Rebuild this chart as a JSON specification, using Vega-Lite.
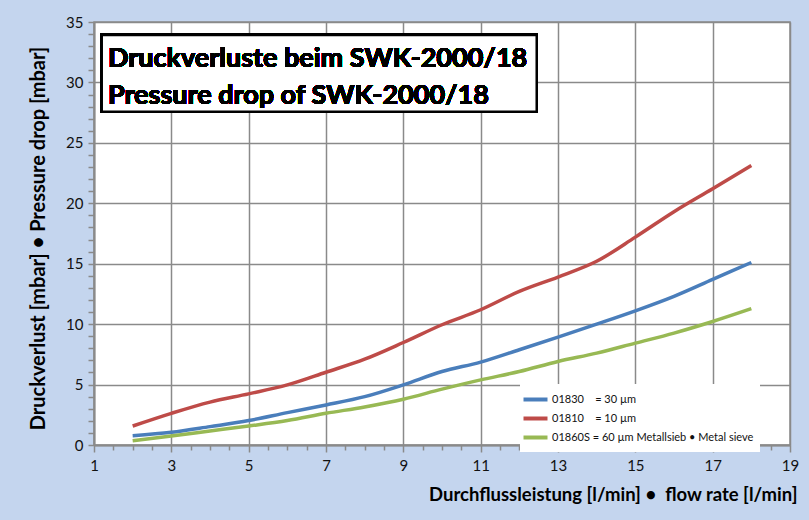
{
  "$schema": "https://vega.github.io/schema/vega-lite/v6.json",
  "width": 696,
  "height": 423,
  "autosize": {"type": "none"},
  "padding": {"left": 94, "top": 22, "right": 19, "bottom": 75},
  "background": "#c4d5ee",
  "config": {
    "view": {"fill": "white", "stroke": "#8a8a8a", "strokeWidth": 1.5},
    "font": "Lato"
  },
  "data": {
    "values": [
      {"flow": 2, "drop": 0.77, "series": "01830   = 30 µm"},
      {"flow": 3, "drop": 1.05, "series": "01830   = 30 µm"},
      {"flow": 4, "drop": 1.52, "series": "01830   = 30 µm"},
      {"flow": 5, "drop": 2.02, "series": "01830   = 30 µm"},
      {"flow": 6, "drop": 2.68, "series": "01830   = 30 µm"},
      {"flow": 7, "drop": 3.31, "series": "01830   = 30 µm"},
      {"flow": 8, "drop": 4.0, "series": "01830   = 30 µm"},
      {"flow": 9, "drop": 4.98, "series": "01830   = 30 µm"},
      {"flow": 10, "drop": 6.08, "series": "01830   = 30 µm"},
      {"flow": 11, "drop": 6.86, "series": "01830   = 30 µm"},
      {"flow": 12, "drop": 7.88, "series": "01830   = 30 µm"},
      {"flow": 13, "drop": 8.93, "series": "01830   = 30 µm"},
      {"flow": 14, "drop": 10.0, "series": "01830   = 30 µm"},
      {"flow": 15, "drop": 11.1, "series": "01830   = 30 µm"},
      {"flow": 16, "drop": 12.3, "series": "01830   = 30 µm"},
      {"flow": 17, "drop": 13.7, "series": "01830   = 30 µm"},
      {"flow": 18, "drop": 15.1, "series": "01830   = 30 µm"},
      {"flow": 2, "drop": 1.57, "series": "01810   = 10 µm"},
      {"flow": 3, "drop": 2.62, "series": "01810   = 10 µm"},
      {"flow": 4, "drop": 3.55, "series": "01810   = 10 µm"},
      {"flow": 5, "drop": 4.23, "series": "01810   = 10 µm"},
      {"flow": 6, "drop": 4.97, "series": "01810   = 10 µm"},
      {"flow": 7, "drop": 6.02, "series": "01810   = 10 µm"},
      {"flow": 8, "drop": 7.1, "series": "01810   = 10 µm"},
      {"flow": 9, "drop": 8.48, "series": "01810   = 10 µm"},
      {"flow": 10, "drop": 9.95, "series": "01810   = 10 µm"},
      {"flow": 11, "drop": 11.19, "series": "01810   = 10 µm"},
      {"flow": 12, "drop": 12.71, "series": "01810   = 10 µm"},
      {"flow": 13, "drop": 13.9, "series": "01810   = 10 µm"},
      {"flow": 14, "drop": 15.2, "series": "01810   = 10 µm"},
      {"flow": 15, "drop": 17.2, "series": "01810   = 10 µm"},
      {"flow": 16, "drop": 19.3, "series": "01810   = 10 µm"},
      {"flow": 17, "drop": 21.2, "series": "01810   = 10 µm"},
      {"flow": 18, "drop": 23.13, "series": "01810   = 10 µm"},
      {"flow": 2, "drop": 0.36, "series": "01860S = 60 µm Metallsieb • Metal sieve"},
      {"flow": 3, "drop": 0.75, "series": "01860S = 60 µm Metallsieb • Metal sieve"},
      {"flow": 4, "drop": 1.16, "series": "01860S = 60 µm Metallsieb • Metal sieve"},
      {"flow": 5, "drop": 1.57, "series": "01860S = 60 µm Metallsieb • Metal sieve"},
      {"flow": 6, "drop": 2.02, "series": "01860S = 60 µm Metallsieb • Metal sieve"},
      {"flow": 7, "drop": 2.62, "series": "01860S = 60 µm Metallsieb • Metal sieve"},
      {"flow": 8, "drop": 3.15, "series": "01860S = 60 µm Metallsieb • Metal sieve"},
      {"flow": 9, "drop": 3.79, "series": "01860S = 60 µm Metallsieb • Metal sieve"},
      {"flow": 10, "drop": 4.62, "series": "01860S = 60 µm Metallsieb • Metal sieve"},
      {"flow": 11, "drop": 5.39, "series": "01860S = 60 µm Metallsieb • Metal sieve"},
      {"flow": 12, "drop": 6.08, "series": "01860S = 60 µm Metallsieb • Metal sieve"},
      {"flow": 13, "drop": 6.91, "series": "01860S = 60 µm Metallsieb • Metal sieve"},
      {"flow": 14, "drop": 7.6, "series": "01860S = 60 µm Metallsieb • Metal sieve"},
      {"flow": 15, "drop": 8.43, "series": "01860S = 60 µm Metallsieb • Metal sieve"},
      {"flow": 16, "drop": 9.26, "series": "01860S = 60 µm Metallsieb • Metal sieve"},
      {"flow": 17, "drop": 10.22, "series": "01860S = 60 µm Metallsieb • Metal sieve"},
      {"flow": 18, "drop": 11.28, "series": "01860S = 60 µm Metallsieb • Metal sieve"}
    ]
  },
  "layer": [
    {
      "mark": {"type": "line", "interpolate": "monotone", "strokeWidth": 3.5},
      "encoding": {
        "x": {
          "field": "flow",
          "type": "quantitative",
          "scale": {"domain": [1, 19], "nice": false, "zero": false},
          "axis": {
            "values": [1,1.5,2,2.5,3,3.5,4,4.5,5,5.5,6,6.5,7,7.5,8,8.5,9,9.5,10,10.5,11,11.5,12,12.5,13,13.5,14,14.5,15,15.5,16,16.5,17,17.5,18,18.5,19],
            "tickCount": 100,
            "format": "~g",
            "labelExpr": "datum.value % 2 === 1 ? datum.label : ''",
            "labelOverlap": false,
            "labelFlush": false,
            "grid": true,
            "gridColor": "#8a8a8a",
            "gridWidth": 1.5,
            "gridOpacity": {"condition": {"test": "datum.value % 2 === 1", "value": 1}, "value": 0},
            "tickColor": "#8a8a8a",
            "tickWidth": 1.5,
            "tickSize": {"condition": {"test": "datum.value % 2 === 1", "value": 7}, "value": 5},
            "domainColor": "#8a8a8a",
            "domainWidth": 2,
            "labelFont": "Lato",
            "labelFontSize": 15,
            "labelColor": "#111",
            "labelPadding": 6,
            "title": "Durchflussleistung [l/min] •\u00a0\u00a0flow rate [l/min]",
            "titleFont": "Lato",
            "titleFontSize": 18.5,
            "titleFontWeight": "bold",
            "titleColor": "#000",
            "titleX": 703,
            "titleY": 49,
            "titleAlign": "right",
            "titleBaseline": "middle"
          }
        },
        "y": {
          "field": "drop",
          "type": "quantitative",
          "scale": {"domain": [0, 35], "nice": false},
          "axis": {
            "values": [0,1,2,3,4,5,6,7,8,9,10,11,12,13,14,15,16,17,18,19,20,21,22,23,24,25,26,27,28,29,30,31,32,33,34,35],
            "tickCount": 100,
            "format": "d",
            "labelExpr": "datum.value % 5 === 0 ? datum.label : ''",
            "labelOverlap": false,
            "labelFlush": false,
            "grid": true,
            "gridColor": "#8a8a8a",
            "gridWidth": 1.5,
            "gridOpacity": {"condition": {"test": "datum.value % 5 === 0", "value": 1}, "value": 0},
            "tickColor": "#8a8a8a",
            "tickWidth": 1.5,
            "tickSize": 6,
            "domainColor": "#8a8a8a",
            "domainWidth": 2,
            "labelFont": "Lato",
            "labelFontSize": 15,
            "labelColor": "#111",
            "labelPadding": 5,
            "title": "Druckverlust [mbar] • Pressure drop [mbar]",
            "titleFont": "Lato",
            "titleFontSize": 20,
            "titleFontWeight": "bold",
            "titleColor": "#000",
            "titleAngle": 270,
            "titleX": -56,
            "titleY": 216,
            "titleAlign": "center",
            "titleBaseline": "middle"
          }
        },
        "color": {
          "field": "series",
          "type": "nominal",
          "scale": {
            "domain": ["01830   = 30 µm", "01810   = 10 µm", "01860S = 60 µm Metallsieb • Metal sieve"],
            "range": ["#4a7ebb", "#be4b48", "#98b954"]
          },
          "legend": {
            "title": null,
            "orient": "none",
            "legendX": 426,
            "legendY": 362,
            "symbolType": "M-1.6,0L1.6,0",
            "symbolStrokeWidth": 4,
            "symbolSize": 225,
            "symbolFillColor": "transparent",
            "labelFont": "Lato",
            "labelFontSize": 11,
            "labelColor": "#111",
            "labelOffset": 7,
            "labelExpr": "replace(replace(datum.label, '01830   ', '01830\u00a0\u00a0\u00a0\u00a0'), '01810   ', '01810\u00a0\u00a0\u00a0\u00a0')",
            "fillColor": "white",
            "padding": 6,
            "rowPadding": 1,
            "labelLimit": 400
          }
        }
      }
    },
    {
      "mark": {"type": "rect", "fill": "white", "stroke": "black", "strokeWidth": 2.5},
      "encoding": {
        "x": {"datum": 1.2, "type": "quantitative"},
        "x2": {"datum": 12.45},
        "y": {"datum": 33.92, "type": "quantitative"},
        "y2": {"datum": 27.58}
      }
    },
    {
      "mark": {"type": "text", "align": "left", "baseline": "alphabetic", "font": "Lato", "fontSize": 27, "fontWeight": "bold", "color": "#000"},
      "encoding": {
        "x": {"datum": 1.36, "type": "quantitative"},
        "y": {"datum": 31.3, "type": "quantitative"},
        "text": {"value": "Druckverluste beim SWK-2000/18"}
      }
    },
    {
      "mark": {"type": "text", "align": "left", "baseline": "alphabetic", "font": "Lato", "fontSize": 27, "fontWeight": "bold", "color": "#000"},
      "encoding": {
        "x": {"datum": 1.36, "type": "quantitative"},
        "y": {"datum": 28.21, "type": "quantitative"},
        "text": {"value": "Pressure drop of SWK-2000/18"}
      }
    }
  ]
}
